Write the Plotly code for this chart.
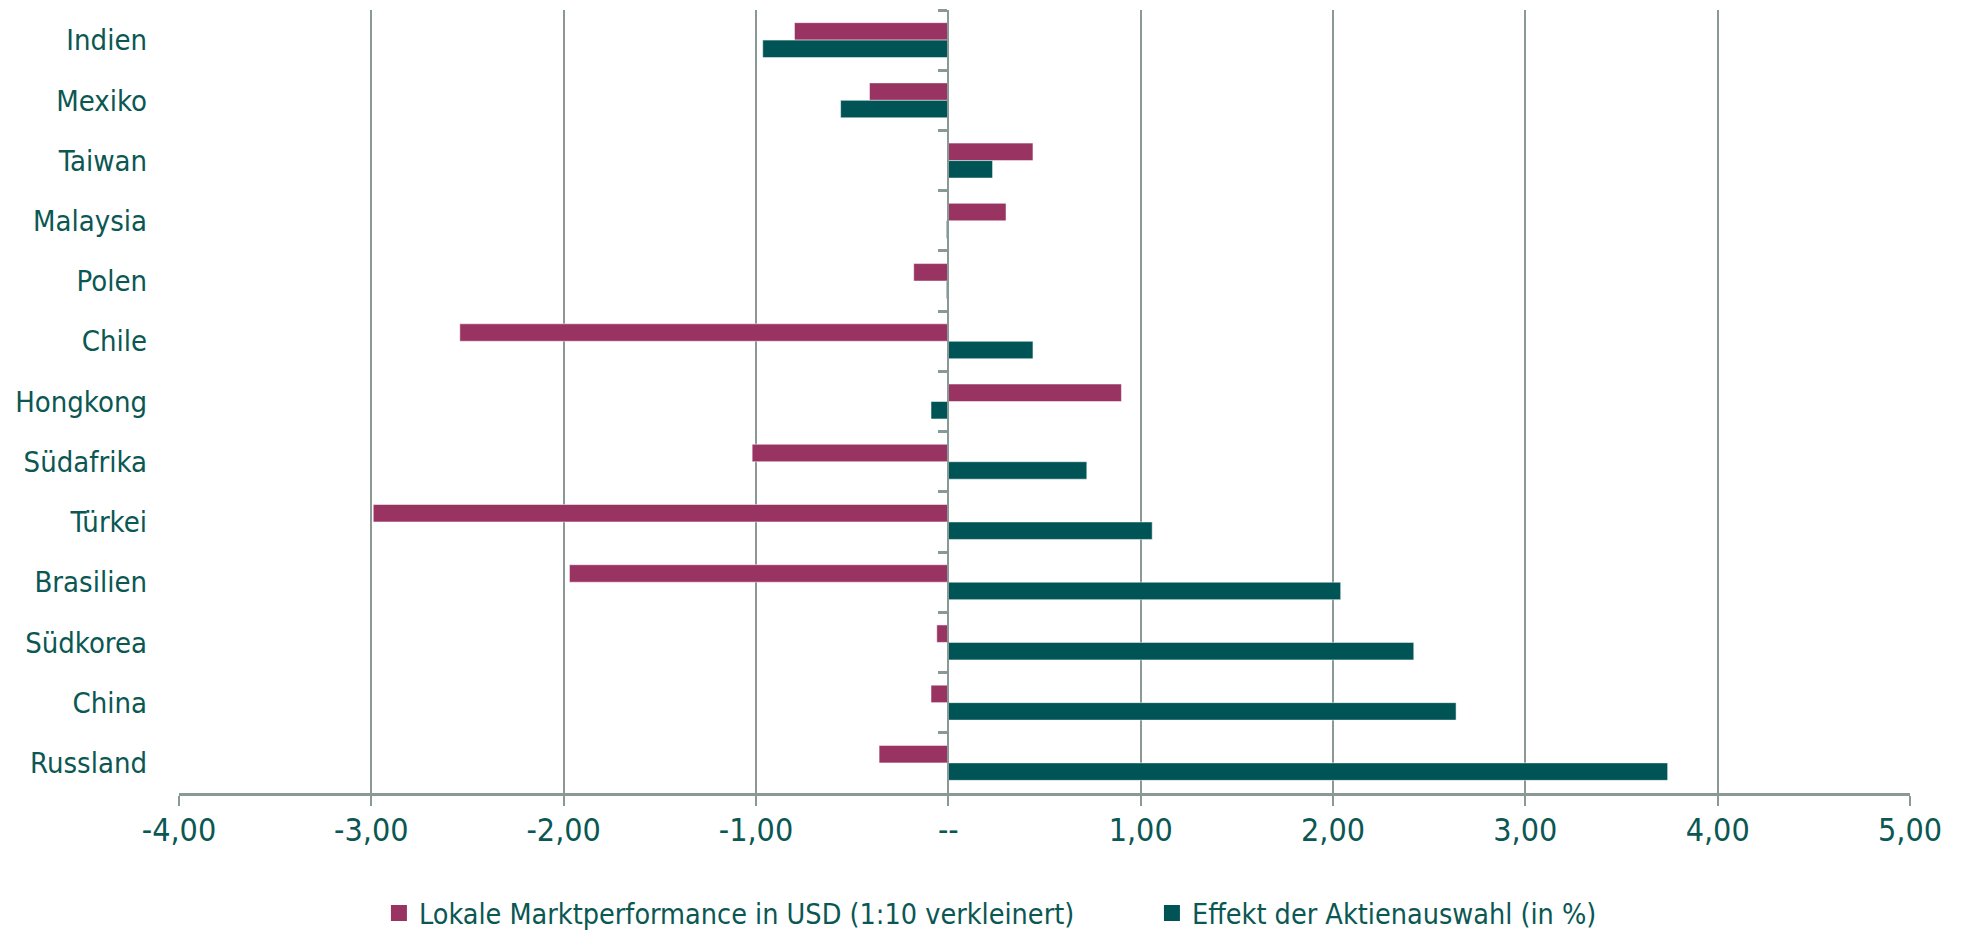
import plotly.graph_objects as go

# Länder (von oben nach unten)
countries = ["Indien", "Mexiko", "Taiwan", "Malaysia", "Polen", "Chile", "Hongkong",
             "Südafrika", "Türkei", "Brasilien", "Südkorea", "China", "Russland"]
# Lokale Marktperformance in USD (1:10 verkleinert)
market_perf = [-0.80, -0.41, 0.44, 0.30, -0.18, -2.54, 0.90, -1.02, -2.99, -1.97, -0.06, -0.09, -0.36]
# Effekt der Aktienauswahl (in %)
selection_effect = [-0.965, -0.56, 0.23, -0.01, -0.01, 0.44, -0.09, 0.72, 1.06, 2.04, 2.42, 2.64, 3.74]

tick_vals = [-4, -3, -2, -1, 0, 1, 2, 3, 4, 5]
tick_text = ["-4,00", "-3,00", "-2,00", "-1,00", "--", "1,00", "2,00", "3,00", "4,00", "5,00"]

name_perf = "Lokale Marktperformance in USD (1:10 verkleinert)"
name_sel = "Effekt der Aktienauswahl (in %)"

MAGENTA = "#993362"
TEAL = "#015456"
TEXT = "#0B5753"
GRID = "#8A9896"
FONT = "Liberation Sans Narrow, Arial Narrow, DejaVu Sans Condensed, sans-serif"

fig = go.Figure()
fig.add_trace(go.Bar(
    y=countries, x=market_perf, orientation="h", name=name_perf,
    marker=dict(color=MAGENTA, line=dict(color="rgba(255,255,255,0.5)", width=1)),
    showlegend=False,
))
fig.add_trace(go.Bar(
    y=countries, x=selection_effect, orientation="h", name=name_sel,
    marker=dict(color=TEAL, line=dict(color="rgba(255,255,255,0.5)", width=1)),
    showlegend=False,
))
# vertical category axis at zero (ticks between categories)
fig.add_trace(go.Scatter(
    y=countries, x=[0] * len(countries), yaxis="y2", mode="markers",
    marker=dict(opacity=0), hoverinfo="skip", showlegend=False,
))
# legend entries with square symbols
for nm, col in [(name_perf, MAGENTA), (name_sel, TEAL)]:
    fig.add_trace(go.Scatter(
        x=[None], y=[None], mode="markers", name=nm,
        marker=dict(symbol="square", size=17, color=col),
    ))

x_min, x_max = -4, 5
fig.update_layout(
    width=1964, height=939,
    margin=dict(l=179, r=54, t=10, b=146, autoexpand=False),
    plot_bgcolor="white", paper_bgcolor="white",
    barmode="group", bargap=0.42, bargroupgap=0.0,
    font=dict(family=FONT, color=TEXT, size=29),
    xaxis=dict(
        range=[x_min, x_max], tickvals=tick_vals, ticktext=tick_text,
        showgrid=True, gridcolor=GRID, gridwidth=2, zeroline=False,
        showline=True, linecolor=GRID, linewidth=3,
        ticks="outside", ticklen=10, tickwidth=2, tickcolor=GRID,
        tickfont=dict(size=32, color=TEXT, family=FONT),
        ticklabelstandoff=-3, automargin=False,
    ),
    yaxis=dict(
        type="category", categoryorder="array", categoryarray=countries,
        range=[len(countries) - 0.5, -0.5],
        showgrid=False, showline=False, zeroline=False, ticks="",
        tickfont=dict(size=29, color=TEXT, family=FONT),
        ticklabelstandoff=31, automargin=False,
    ),
    yaxis2=dict(
        type="category", categoryorder="array", categoryarray=countries,
        matches="y", overlaying="y", anchor="free",
        position=(0 - x_min) / (x_max - x_min),
        showline=True, linecolor=GRID, linewidth=2,
        ticks="outside", tickson="boundaries", ticklen=9, tickwidth=3, tickcolor=GRID,
        showticklabels=False, showgrid=False, zeroline=False, automargin=False,
    ),
    legend=dict(
        orientation="h", x=0.1155, xanchor="left",
        yref="container", y=0.0, yanchor="bottom",
        maxheight=150,
        entrywidth=728, entrywidthmode="pixels",
        font=dict(size=28.5, color=TEXT, family=FONT),
        itemsizing="trace",
    ),
)

fig.write_html("out.html")
